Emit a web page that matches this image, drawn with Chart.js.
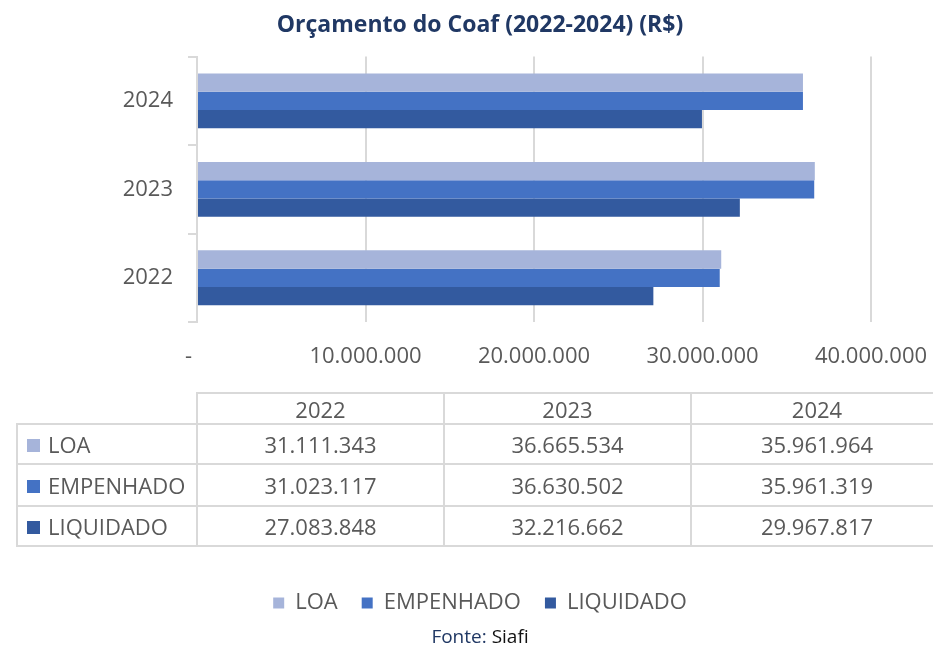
<!DOCTYPE html>
<html lang="pt-BR">
<head>
  <meta charset="UTF-8">
  <title>Orçamento do Coaf (2022-2024)</title>
  <script src="https://cdn.jsdelivr.net/npm/chart.js"></script>
  <style>
    html, body { margin: 0; padding: 0; background: #fff; overflow: hidden; }
    body { width: 933px; height: 650px; position: relative; font-family: "Open Sans", sans-serif; }
    #wrap { position: absolute; left: 0; top: 0; width: 933px; height: 650px; }
    #dataTable {
      position: absolute; left: 16px; top: 392px;
      border-collapse: collapse; table-layout: fixed;
      font-size: 22px; color: #595959;
    }
    #dataTable td, #dataTable th {
      border: 2px solid #d9d9d9; font-weight: normal; text-align: center;
      padding: 0; white-space: nowrap; line-height: 26px;
    }
    #dataTable th.blank { border: none; }
    #dataTable thead th { height: 29px; }
    #dataTable tbody td { height: 38px; }
    #dataTable tbody tr:nth-child(2) td { height: 40px; }
    #dataTable td.lbl { text-align: left; padding-left: 9px; }
    .sw { display: inline-block; width: 13px; height: 13px; margin-right: 8px; vertical-align: 1px; }
    #fonte {
      position: absolute; left: 27px; width: 906px; top: 623px; text-align: center;
      font-size: 19px; color: #203864;
    }
    #fonte span { color: #111; }
  </style>
</head>
<body>
  <div id="wrap"><canvas id="coafChart" width="933" height="650"></canvas></div>
  <table id="dataTable"></table>
  <div id="fonte">Fonte: <span>Siafi</span></div>

  <script>
    // dados (R$)
    const years = ['2022', '2023', '2024'];
    const seriesNames = ['LOA', 'EMPENHADO', 'LIQUIDADO'];
    const loa = [31111343, 36665534, 35961964];
    const empenhado = [31023117, 36630502, 35961319];
    const liquidado = [27083848, 32216662, 29967817];
    const seriesColors = ['#a6b4da', '#4472c4', '#335a9f'];

    const allSeries = [loa, empenhado, liquidado];

    function fmt(v) {
      return String(v).replace(/\B(?=(\d{3})+(?!\d))/g, '.');
    }

    // tabela de dados abaixo do grafico (a ultima coluna passa da borda, como no original)
    const table = document.getElementById('dataTable');
    const colWidths = [180, 247, 247, 252];
    table.style.width = colWidths.reduce((a, b) => a + b, 0) + 'px';
    let html = '<colgroup>' + colWidths.map(w => '<col style="width:' + w + 'px">').join('') + '</colgroup>';
    html += '<thead><tr><th class="blank"></th>' + years.map(y => '<th>' + y + '</th>').join('') + '</tr></thead><tbody>';
    seriesNames.forEach((name, i) => {
      html += '<tr><td class="lbl"><span class="sw" style="background:' + seriesColors[i] + '"></span>' + name + '</td>';
      html += allSeries[i].map(v => '<td>' + fmt(v) + '</td>').join('') + '</tr>';
    });
    html += '</tbody>';
    table.innerHTML = html;

    const ctx = document.getElementById('coafChart').getContext('2d');
    const gridGray = '#d9d9d9';
    const textGray = '#595959';

    new Chart(ctx, {
      type: 'bar',
      data: {
        labels: years,
        datasets: seriesNames.map((name, i) => ({
          label: name,
          data: allSeries[i],
          backgroundColor: seriesColors[i],
          borderWidth: 0,
          categoryPercentage: 0.62,
          barPercentage: 1.0
        }))
      },
      options: {
        indexAxis: 'y',
        responsive: false,
        animation: false,
        layout: { padding: { left: 27, right: 0, top: 0, bottom: 26 } },
        plugins: {
          title: {
            display: true,
            text: 'Orçamento do Coaf (2022-2024) (R$)',
            color: '#203864',
            font: { family: 'Open Sans', size: 23, weight: 'bold' },
            padding: { top: 12, bottom: 17 }
          },
          legend: {
            position: 'bottom',
            labels: {
              boxWidth: 11, boxHeight: 11, padding: 24,
              color: textGray,
              font: { family: 'Open Sans', size: 22 }
            }
          },
          tooltip: { enabled: false }
        },
        scales: {
          x: {
            min: 0, max: 40000000,
            border: { display: false },
            grid: { color: gridGray, lineWidth: 2, drawTicks: false },
            ticks: {
              stepSize: 10000000,
              padding: 22,
              color: textGray,
              maxRotation: 0,
              autoSkip: false,
              font: { family: 'Open Sans', size: 22 },
              callback: v => v === 0 ? '-   ' : fmt(v)
            },
            afterFit: scale => { scale.height = 246; scale.paddingRight = 62; }
          },
          y: {
            reverse: true,
            border: { display: true, color: gridGray, width: 2 },
            grid: { offset: true, drawOnChartArea: false, color: gridGray, lineWidth: 2, tickLength: 9 },
            ticks: {
              padding: 15,
              color: textGray,
              font: { family: 'Open Sans', size: 22 }
            },
            afterFit: scale => { scale.width = 170; }
          }
        }
      }
    });
  </script>
</body>
</html>
